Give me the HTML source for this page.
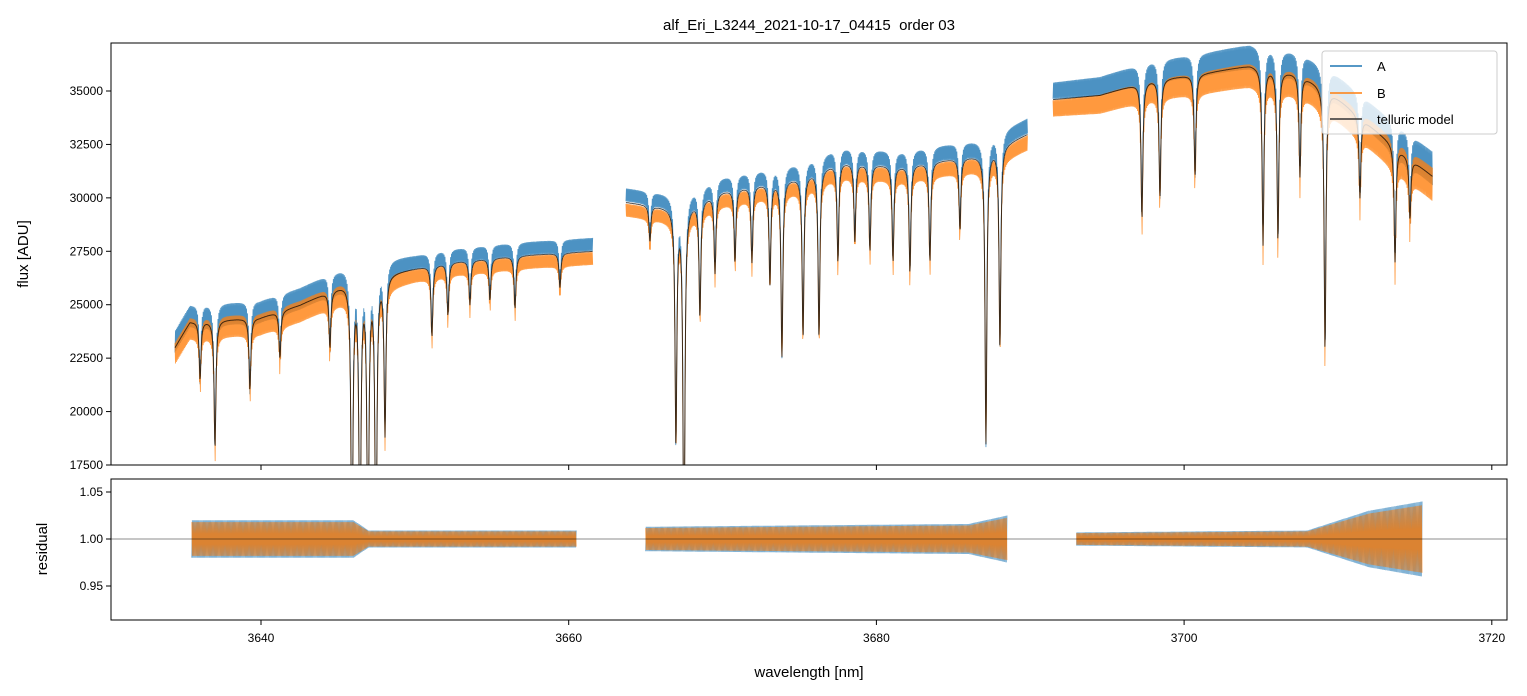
<!DOCTYPE html>
<html><head><meta charset="utf-8"><style>
body{margin:0;background:#fff}
svg{display:block;font-family:"Liberation Sans","DejaVu Sans",sans-serif}
</style></head><body>
<svg id="c" width="1527" height="696" viewBox="0 0 1527 696">
<defs>
<clipPath id="clipTop"><rect x="111" y="43" width="1396" height="422"/></clipPath>
<clipPath id="clipBot"><rect x="111" y="479" width="1396" height="141"/></clipPath>
</defs>
<text x="809" y="30" text-anchor="middle" font-size="15" style="white-space:pre">alf_Eri_L3244_2021-10-17_04415  order 03</text>
<g id="topPanel"></g>
<g id="botPanel"></g>
<text transform="translate(28,254) rotate(-90)" text-anchor="middle" font-size="15">flux [ADU]</text>
<text transform="translate(47,549) rotate(-90)" text-anchor="middle" font-size="15">residual</text>
<text x="809" y="677" text-anchor="middle" font-size="15">wavelength [nm]</text>
<g id="legendG">
<rect x="1322" y="51" width="175" height="83" rx="3" fill="#fff" fill-opacity="0.8" stroke="#ccc"/>
<line x1="1330" y1="66" x2="1362" y2="66" stroke="#1f77b4" stroke-width="1.5"/>
<text x="1377" y="71" font-size="13">A</text>
<line x1="1330" y1="93" x2="1362" y2="93" stroke="#ff7f0e" stroke-width="1.5"/>
<text x="1377" y="98" font-size="13">B</text>
<line x1="1330" y1="119" x2="1362" y2="119" stroke="#333" stroke-width="1.5"/>
<text x="1377" y="124" font-size="13">telluric model</text>
</g>
</svg>
<script>
const xTicks=[3640,3660,3680,3700,3720];
const yTicks=[17500,20000,22500,25000,27500,30000,32500,35000];
const rTicks=[0.95,1.00,1.05];
const seg1Wl=[3634.41,3635.38,3639.93,3642.53,3645.46,3648.38,3652.28,3656.83,3661.58];
const seg1Flux=[23000,24200,24400,25000,26000,26500,27000,27300,27500];
const seg2Wl=[3663.72,3667.23,3669.83,3675.03,3677.63,3681.53,3686.73,3689.85];
const seg2Flux=[29800,29500,30300,31000,31700,31500,32000,33000];
const seg3Wl=[3691.48,3694.53,3697.78,3701.03,3704.28,3707.53,3709.48,3712.73,3716.17];
const seg3Flux=[34600,34800,35500,35800,36200,35800,35000,33000,31000];
const lineCenters=[3636.04,3637.01,3639.28,3641.23,3644.48,3645.91,3646.43,3646.95,3647.47,3648.06,3651.11,3652.15,3653.58,3654.88,3656.51,3659.43,
3665.28,3666.97,3667.49,3668.53,3669.51,3670.81,3671.91,3673.08,3673.86,3675.23,3676.27,3677.5,3678.6,3679.58,3681.08,3682.18,3683.48,3685.43,3687.12,3688.03,
3697.26,3698.43,3700.71,3705.13,3706.1,3707.53,3709.16,3711.43,3713.71,3714.68];
const lineMinFlux=[21500,18300,21000,22500,23000,12000,12000,12000,12000,19000,23500,24500,25000,25200,24800,25800,
28000,18500,12000,24500,26500,27000,27000,26000,22600,23500,23500,27000,28000,27500,27000,26500,27000,28500,18500,23000,
29000,30000,31000,27800,28000,31000,22800,30000,27000,29000];
const scaleA=1.012, scaleB=0.988;
const noiseWl=[3634,3646,3650,3664,3690,3695,3708,3717];
const noiseAmpFlux=[500,500,300,300,350,450,600,800];
const resSegStart=[3635.5,3665.0,3693.0];
const resSegEnd=[3660.5,3688.5,3715.5];
const resWl=[3635.5,3646,3647,3660.5,3665,3686,3688.5,3693,3708,3712,3715.5];
const resAmp=[0.02,0.02,0.009,0.009,0.013,0.016,0.025,0.007,0.009,0.03,0.04];

const X=w=>111+(w-3630.25)*15.385;
const Y=f=>465-(f-17500)*(374/17500);
const R=r=>539-(r-1)*(47/0.05);
const NS="http://www.w3.org/2000/svg";
function mk(tag,attrs,parent){const e=document.createElementNS(NS,tag);for(const k in attrs)e.setAttribute(k,attrs[k]);parent.appendChild(e);return e;}
function interp(xs,ys,x){if(x<=xs[0])return ys[0];for(let i=1;i<xs.length;i++){if(x<=xs[i]){const t=(x-xs[i-1])/(xs[i]-xs[i-1]);return ys[i-1]+t*(ys[i]-ys[i-1]);}}return ys[ys.length-1];}
const segs=[[seg1Wl,seg1Flux],[seg2Wl,seg2Flux],[seg3Wl,seg3Flux]];
function model(w,wl,fl){let m=interp(wl,fl,w);
 for(let i=0;i<lineCenters.length;i++){const lc=lineCenters[i];if(lc<wl[0]-0.2||lc>wl[wl.length-1]+0.2)continue;
  const cc=interp(wl,fl,lc);const d=1-lineMinFlux[i]/cc;const g=0.07;const L=1/(1+((w-lc)/g)**2);m*=1-d*L;}
 return m;}
const topG=document.getElementById('topPanel'),botG=document.getElementById('botPanel');
const gT=mk('g',{'clip-path':'url(#clipTop)'},topG);
const step=0.03;
segs.forEach((s)=>{const wl=s[0],fl=s[1];let pa='',pb='',pm='';let k=0;
 for(let w=wl[0];w<=wl[wl.length-1];w+=step,k++){const m=model(w,wl,fl);const a=interp(noiseWl,noiseAmpFlux,w);const sg=(k%2?1:-1);
  const x=X(w).toFixed(2);
  pa+=(k?'L':'M')+x+','+Y(m*scaleA+sg*a).toFixed(1);
  pb+=(k?'L':'M')+x+','+Y(m*scaleB-sg*a).toFixed(1);
  pm+=(k?'L':'M')+x+','+Y(m).toFixed(1);}
 const ea=mk('path',{d:pa,fill:'none',stroke:'#1f77b4','stroke-opacity':0.8,'stroke-width':0.8},gT);
 
 
 const eb=mk('path',{d:pb,fill:'none',stroke:'#ff7f0e','stroke-opacity':0.8,'stroke-width':0.8},gT);
 
 
 const em=mk('path',{d:pm,fill:'none',stroke:'#000','stroke-opacity':0.7,'stroke-width':1},gT);
 
 
});
mk('rect',{x:111,y:43,width:1396,height:422,fill:'none',stroke:'#000','stroke-width':1},topG);
yTicks.forEach(v=>{const y=Y(v);mk('line',{x1:106,x2:111,y1:y,y2:y,stroke:'#000'},topG);
 const t=mk('text',{x:103,y:y+4,'text-anchor':'end','font-size':12},topG);t.textContent=v;
 
 });
xTicks.forEach(v=>{const x=X(v);mk('line',{x1:x,x2:x,y1:465,y2:470,stroke:'#000'},topG);});
const gB=mk('g',{'clip-path':'url(#clipBot)'},botG);
for(let si=0;si<3;si++){let pa='',pb='';let k=0;
 for(let w=resSegStart[si];w<=resSegEnd[si];w+=step,k++){const a=interp(resWl,resAmp,w);const sg=(k%2?1:-1);const x=X(w).toFixed(2);
  pa+=(k?'L':'M')+x+','+R(1+sg*a).toFixed(1);pb+=(k?'L':'M')+x+','+R(1-sg*a*0.9).toFixed(1);}
 const ea=mk('path',{d:pa,fill:'none',stroke:'#1f77b4','stroke-opacity':0.8,'stroke-width':0.6},gB);
 
 
 const eb=mk('path',{d:pb,fill:'none',stroke:'#ff7f0e','stroke-opacity':0.8,'stroke-width':0.6},gB);
 
 }
mk('line',{x1:111,x2:1507,y1:R(1),y2:R(1),stroke:'#000','stroke-opacity':0.6,'stroke-width':0.8},gB);
mk('rect',{x:111,y:479,width:1396,height:141,fill:'none',stroke:'#000','stroke-width':1},botG);
rTicks.forEach(v=>{const y=R(v);mk('line',{x1:106,x2:111,y1:y,y2:y,stroke:'#000'},botG);
 const t=mk('text',{x:103,y:y+4,'text-anchor':'end','font-size':12},botG);t.textContent=v.toFixed(2);
 
 });
xTicks.forEach(v=>{const x=X(v);mk('line',{x1:x,x2:x,y1:620,y2:625,stroke:'#000'},botG);
 const t=mk('text',{x:x,y:642,'text-anchor':'middle','font-size':12},botG);t.textContent=v;
 
 });
document.getElementById('c').appendChild(document.getElementById('legendG'));
</script>
</body></html>
